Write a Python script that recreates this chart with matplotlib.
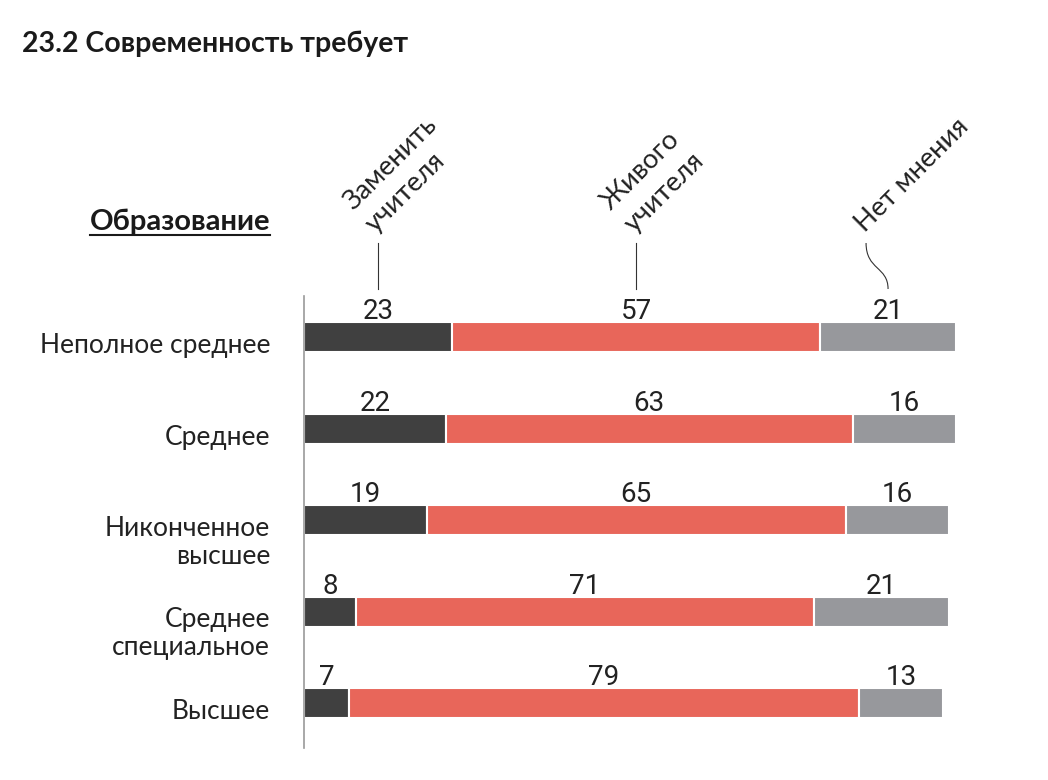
import matplotlib
matplotlib.use("Agg")
import matplotlib.pyplot as plt
from matplotlib.path import Path
from matplotlib.patches import PathPatch
from matplotlib.lines import Line2D
from matplotlib.transforms import blended_transform_factory

plt.rcParams['font.family'] = ['Lato', 'Noto Sans', 'DejaVu Sans']

title = "23.2 Современность требует"
group_title = "Образование"
categories = ["Неполное среднее", "Среднее", "Никонченное\nвысшее",
              "Среднее\nспециальное", "Высшее"]
series_names = ["Заменить\nучителя", "Живого\nучителя", "Нет мнения"]
replace_teacher = [23, 22, 19, 8, 7]
live_teacher = [57, 63, 65, 71, 79]
no_opinion = [21, 16, 16, 21, 13]
colors = ["#404040", "#e8665a", "#97989c"]

W, H = 1048, 780
fig = plt.figure(figsize=(W / 100, H / 100), dpi=100)

# axes placed in pixels: left edge 304, bars scale ~6.455 px per unit
ax_left, ax_right, ax_top, ax_bot = 304, 1001, 296, 748
ax = fig.add_axes([ax_left / W, 1 - ax_bot / H, (ax_right - ax_left) / W, (ax_bot - ax_top) / H])
ax.set_xlim(0, 108)
row_px = 91.5
ax.set_ylim(4 + (ax_bot - 703) / row_px, -(337 - ax_top) / row_px)

bar_h = 30 / row_px
series = [replace_teacher, live_teacher, no_opinion]
ys = list(range(len(categories)))
left = [0] * len(categories)
for vals, c in zip(series, colors):
    ax.barh(ys, vals, left=left, height=bar_h, color=c, edgecolor="white", linewidth=1.5, zorder=2)
    for y, l, v in zip(ys, left, vals):
        ax.annotate(str(v), xy=(l + v / 2, y - bar_h / 2), xytext=(0, 3), textcoords="offset pixels",
                    ha="center", va="baseline", fontsize=20, color="#222222",
                    family=["Roboto", "DejaVu Sans"])
    left = [l + v for l, v in zip(left, vals)]

# category labels
for y, lbl in zip(ys, categories):
    ax.annotate(lbl, xy=(0, y), xycoords=("axes fraction", "data"), xytext=(-34, 4),
                textcoords="offset pixels", ha="right", va="top", fontsize=19, color="#222222",
                linespacing=1.15)

for s in ["top", "right", "bottom"]:
    ax.spines[s].set_visible(False)
ax.spines["left"].set_color("#9a9a9a")
ax.spines["left"].set_linewidth(1.2)
ax.set_xticks([])
ax.set_yticks([])

# column headers with leader lines, pointing at first row's segments
trans = blended_transform_factory(ax.transData, ax.transAxes)
y_lead_top = (ax_bot - 243) / (ax_bot - ax_top)
y_lead_bot = (ax_bot - 289) / (ax_bot - ax_top)
starts = [0, replace_teacher[0], replace_teacher[0] + live_teacher[0]]
firsts = [replace_teacher[0], live_teacher[0], no_opinion[0]]
px = 6.455
for k, (name, s0, v0) in enumerate(zip(series_names, starts, firsts)):
    cx = s0 + v0 / 2
    if k < 2:
        ax.plot([cx, cx], [y_lead_bot, y_lead_top], transform=trans, color="#333333", lw=0.8, clip_on=False)
        tx, off = cx, 1
    else:
        x0 = cx - 22 / px
        verts = [(x0, y_lead_top), (x0, y_lead_top - 0.06), (cx, y_lead_bot + 0.05), (cx, y_lead_bot)]
        path = Path(verts, [Path.MOVETO, Path.CURVE4, Path.CURVE4, Path.CURVE4])
        ax.add_patch(PathPatch(path, transform=trans, fill=False, edgecolor="#333333", lw=0.8, clip_on=False))
        tx, off = x0, 2
    ax.annotate(name, xy=(tx, y_lead_top), xycoords=trans, xytext=(off, 6), textcoords="offset pixels",
                rotation=45, rotation_mode="anchor", ha="left", va="bottom", fontsize=19.5,
                color="#222222", linespacing=1.35)

fig.text(22 / W, 1 - 52 / H, title, fontsize=20.5, fontweight="bold", color="#1a1a1a", va="baseline")
t = fig.text(270 / W, 1 - 230 / H, group_title, fontsize=21, fontweight="bold", color="#1a1a1a",
             ha="right", va="baseline")
fig.canvas.draw()
bb = t.get_window_extent()
fig.add_artist(Line2D([bb.x0 / W, bb.x1 / W], [1 - 235 / H, 1 - 235 / H], color="#1a1a1a", lw=1.5))

fig.savefig("out.png", dpi=100, facecolor="white")
